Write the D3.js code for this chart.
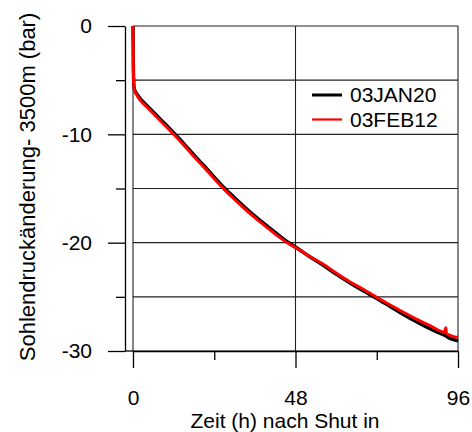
<!DOCTYPE html>
<html>
<head>
<meta charset="utf-8">
<script src="https://cdn.jsdelivr.net/npm/d3@7"></script>
<style>
body { margin: 0; background: #fff; }
text { font-family: "Liberation Sans", Arial, sans-serif; fill: #000; }
</style>
</head>
<body>
<script>

// Zeit nach Shut in (h)
var zeit = [0, 0.05, 0.1, 0.2, 0.3, 0.5, 1, 2, 4, 7, 10, 12, 15, 18, 21, 24, 27, 30, 34, 38, 42, 46, 48, 52, 56, 60, 64, 68, 72, 76, 80, 84, 88, 92, 92.4, 92.6, 96]

// Sohlendruckaenderung (bar)
var jan20 = [0, -1.4, -3.4, -5.1, -5.6, -5.9, -6.2, -6.65, -7.3, -8.25, -9.2, -9.85, -10.85, -11.9, -12.9, -13.95, -14.95, -15.85, -17.0, -18.05, -19.05, -20.0, -20.4, -21.25, -22.05, -22.9, -23.7, -24.45, -25.15, -25.9, -26.65, -27.35, -28.0, -28.55, -28.6, -28.65, -29.05]
var feb12 = [0, -1.5, -3.5, -5.2, -5.7, -6.0, -6.3, -6.8, -7.45, -8.4, -9.35, -10.0, -11.0, -12.05, -13.05, -14.1, -15.1, -16.0, -17.15, -18.2, -19.2, -20.1, -20.45, -21.25, -21.95, -22.8, -23.6, -24.3, -25.05, -25.75, -26.45, -27.1, -27.7, -28.25, -27.85, -28.4, -28.75]

var serien = ["03JAN20", "03FEB12"]
var farben = ["#000000", "#ff0000"]

var xMajor = [0, 48, 96], xMinor = [24, 72]
var yMajor = [0, -10, -20, -30], yMinor = [-5, -15, -25]
var yGrid = [0, -5, -10, -15, -20, -25, -30]

var width = 472, height = 432
var svg = d3.select("body").append("svg").attr("width", width).attr("height", height)

var x = d3.scaleLinear().domain([0, 96]).range([133, 458])
var y = d3.scaleLinear().domain([0, -30]).range([26, 351])

// grid
svg.selectAll(".hgrid").data(yGrid).enter().append("line")
  .attr("x1", x(0)).attr("x2", x(96))
  .attr("y1", d => y(d)).attr("y2", d => y(d))
  .attr("stroke", "#222").attr("stroke-width", 1.1)
svg.selectAll(".vgrid").data(xMajor).enter().append("line")
  .attr("x1", d => x(d)).attr("x2", d => x(d))
  .attr("y1", y(0)).attr("y2", y(-30))
  .attr("stroke", "#222").attr("stroke-width", 1.1)

// axes
function style(g) {
  g.selectAll("text").style("font-size", "21px").attr("font-family", "Liberation Sans, Arial, sans-serif")
  g.selectAll("line, path").attr("stroke", "#000").attr("stroke-width", 1.3)
}

svg.append("g").attr("transform", "translate(0," + y(-30) + ")")
  .call(d3.axisBottom(x).tickValues(xMajor).tickSize(17).tickSizeOuter(0).tickPadding(22).tickFormat(d => String(d)))
  .call(style)
svg.append("g").attr("transform", "translate(0," + y(-30) + ")")
  .call(d3.axisBottom(x).tickValues(xMinor).tickSize(9).tickSizeOuter(0).tickFormat(""))
  .call(style)
  .select(".domain").remove()

svg.append("g").attr("transform", "translate(125,0)")
  .call(d3.axisLeft(y).tickValues(yMajor).tickSize(17).tickSizeOuter(0).tickPadding(16).tickFormat(d => String(d)))
  .call(style)
svg.append("g").attr("transform", "translate(125,0)")
  .call(d3.axisLeft(y).tickValues(yMinor).tickSize(9).tickSizeOuter(0).tickFormat(""))
  .call(style)
  .select(".domain").remove()

svg.append("line").attr("x1", 125).attr("x2", x(0)).attr("y1", y(-30)).attr("y2", y(-30))
  .attr("stroke", "#000").attr("stroke-width", 1.3)

// curves
var line = d3.line().x(d => x(d[0])).y(d => y(d[1])).curve(d3.curveMonotoneX)
var daten = [jan20, feb12]
daten.forEach(function(werte, i) {
  svg.append("path")
    .datum(zeit.map((t, j) => [t, werte[j]]))
    .attr("fill", "none")
    .attr("stroke", farben[i])
    .attr("stroke-width", i == 0 ? 3.4 : 3)
    .attr("stroke-linejoin", "round")
    .attr("d", line)
})

// legend
var legend = svg.selectAll(".legend").data(serien).enter().append("g")
  .attr("transform", (d, i) => "translate(312," + (95 + i * 24.5) + ")")
legend.append("line").attr("x1", 0).attr("x2", 30)
  .attr("stroke", (d, i) => farben[i]).attr("stroke-width", (d, i) => i == 0 ? 3 : 2.2)
legend.append("text").attr("x", 38).attr("y", 7)
  .style("font-size", "21px").text(d => d)

// titles
svg.append("text")
  .attr("x", 285).attr("y", 428).attr("text-anchor", "middle")
  .style("font-size", "21px")
  .text("Zeit (h) nach Shut in")

svg.append("text")
  .attr("transform", "translate(35," + 187 + ") rotate(-90)")
  .attr("text-anchor", "middle")
  .style("font-size", "22px")
  .text("Sohlendruckänderung- 3500m (bar)")

</script>
</body>
</html>
